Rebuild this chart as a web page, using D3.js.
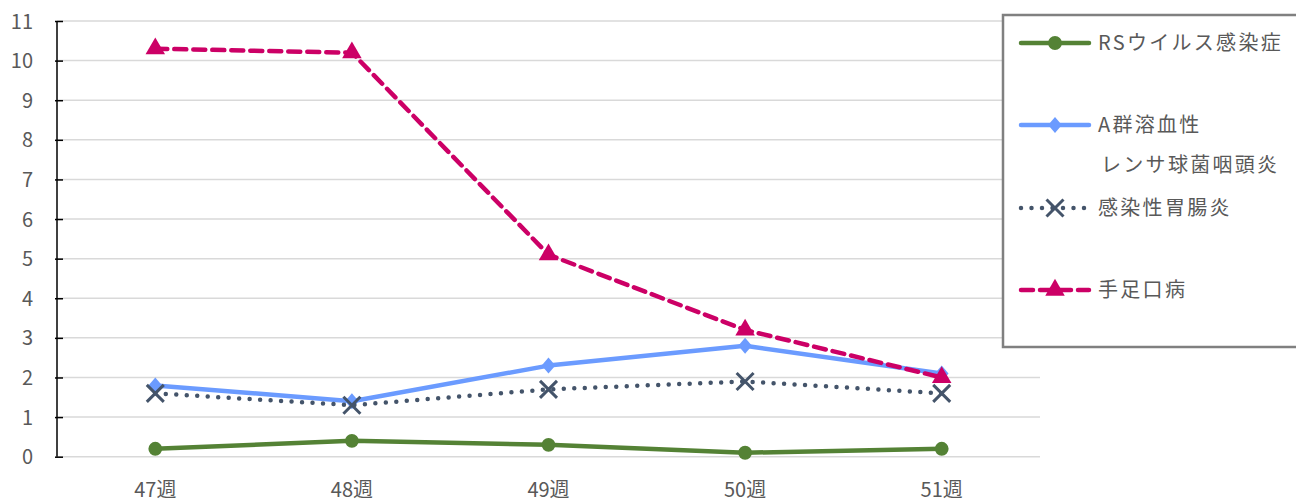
<!DOCTYPE html>
<html>
<head>
<meta charset="utf-8">
<script src="https://cdn.jsdelivr.net/npm/d3@7"></script>
<style>
  body { margin: 0; background: #fff; overflow: hidden; }
  text { font-family: "Noto Sans CJK JP", "Noto Sans", sans-serif; fill: #595959; }
</style>
</head>
<body>
<div id="chart"></div>
<script>
const weeks = ["47週", "48週", "49週", "50週", "51週"]
const rsVirus = [0.2, 0.4, 0.3, 0.1, 0.2]
const strepA = [1.8, 1.4, 2.3, 2.8, 2.1]
const gastro = [1.6, 1.3, 1.7, 1.9, 1.6]
const handFootMouth = [10.3, 10.2, 5.1, 3.2, 2.0]
const yTicks = d3.range(0, 12)

const series = [
  { name: ["RSウイルス感染症"], values: rsVirus, color: "#548235", dash: null, marker: "circle" },
  { name: ["A群溶血性", "レンサ球菌咽頭炎"], values: strepA, color: "#6B9BFF", dash: null, marker: "diamond" },
  { name: ["感染性胃腸炎"], values: gastro, color: "#44546A", dash: "0 10.5", marker: "cross" },
  { name: ["手足口病"], values: handFootMouth, color: "#CC0066", dash: "12 7", marker: "triangle" }
]

const width = 1296, height = 502
const margin = { top: 21, right: 256, bottom: 45, left: 57 }

const svg = d3.select("#chart").append("svg")
  .attr("width", width).attr("height", height)

const x = d3.scaleBand()
  .domain(weeks)
  .range([margin.left, width - margin.right])

const y = d3.scaleLinear()
  .domain([0, 11])
  .range([height - margin.bottom - 0.3, margin.top])

// gridlines
svg.append("g")
  .selectAll("line")
  .data(yTicks)
  .join("line")
  .attr("x1", margin.left).attr("x2", width - margin.right)
  .attr("y1", d => y(d)).attr("y2", d => y(d))
  .attr("stroke", "#d9d9d9").attr("stroke-width", 1.5)

// y axis: ticks pointing inward, no domain cap
const yAxis = svg.append("g")
  .attr("transform", `translate(${margin.left},0)`)
  .call(d3.axisRight(y).tickValues(yTicks).tickSize(6).tickSizeOuter(0).tickFormat(d3.format("d")))
yAxis.select(".domain").attr("stroke", "#000").attr("stroke-width", 1.5)
  .attr("d", `M0,${y(11)}V${y(0)}`)
yAxis.selectAll(".tick line").attr("stroke", "#000").attr("stroke-width", 1.5)
  .attr("x1", -2)
yAxis.selectAll(".tick text")
  .attr("x", -24).attr("text-anchor", "end")
  .attr("dy", "0.35em")
  .style("font-size", "20px")

// x labels
svg.append("g")
  .selectAll("text")
  .data(weeks)
  .join("text")
  .attr("x", d => x(d) + x.bandwidth() / 2)
  .attr("y", 497)
  .attr("text-anchor", "middle")
  .style("font-size", "20px")
  .text(d => d)

const diamond = {
  draw(ctx, size) {
    const w = Math.sqrt(size) * 0.6, h = Math.sqrt(size) * 0.7
    ctx.moveTo(0, -h); ctx.lineTo(w, 0); ctx.lineTo(0, h); ctx.lineTo(-w, 0); ctx.closePath()
  }
}

const symbolFor = {
  circle: d3.symbol().type(d3.symbolCircle).size(150),
  diamond: d3.symbol().type(diamond).size(130),
  triangle: d3.symbol().type(d3.symbolTriangle).size(165),
  cross: d3.symbol().type(d3.symbolX).size(190)
}

function drawMarker(g, s, cx, cy) {
  const p = g.append("path")
    .attr("transform", `translate(${cx},${cy})`)
    .attr("d", symbolFor[s.marker]())
  if (s.marker === "cross") {
    p.attr("fill", "none").attr("stroke", s.color).attr("stroke-width", 3)
  } else {
    p.attr("fill", s.color)
  }
}

const line = d3.line()
  .x((d, i) => x(weeks[i]) + x.bandwidth() / 2)
  .y(d => y(d))

series.forEach(s => {
  const g = svg.append("g")
  g.append("path")
    .attr("d", line(s.values))
    .attr("fill", "none")
    .attr("stroke", s.color)
    .attr("stroke-width", 4.5)
    .attr("stroke-linecap", "round")
    .attr("stroke-linejoin", "round")
    .attr("stroke-dasharray", s.dash)
  s.values.forEach((v, i) => drawMarker(g, s, x(weeks[i]) + x.bandwidth() / 2, y(v)))
})

// legend
const legend = svg.append("g")
legend.append("rect")
  .attr("x", 1003).attr("y", 15)
  .attr("width", 310).attr("height", 332)
  .attr("fill", "#fff").attr("stroke", "#808080").attr("stroke-width", 2.5)

const legendRows = [43, 125, 208, 290]
series.forEach((s, i) => {
  const ly = legendRows[i]
  const g = legend.append("g")
  g.append("line")
    .attr("x1", 1021).attr("x2", 1089)
    .attr("y1", ly).attr("y2", ly)
    .attr("stroke", s.color).attr("stroke-width", 4.5)
    .attr("stroke-linecap", "round")
    .attr("stroke-dasharray", s.dash)
  drawMarker(g, s, 1055, ly)
  s.name.forEach((t, j) => {
    g.append("text")
      .attr("x", j === 0 ? 1098 : 1101)
      .attr("y", ly + j * 40)
      .attr("dy", "0.35em")
      .style("font-size", "20px")
      .style("letter-spacing", "2.3px")
      .text(t)
  })
})
</script>
</body>
</html>
